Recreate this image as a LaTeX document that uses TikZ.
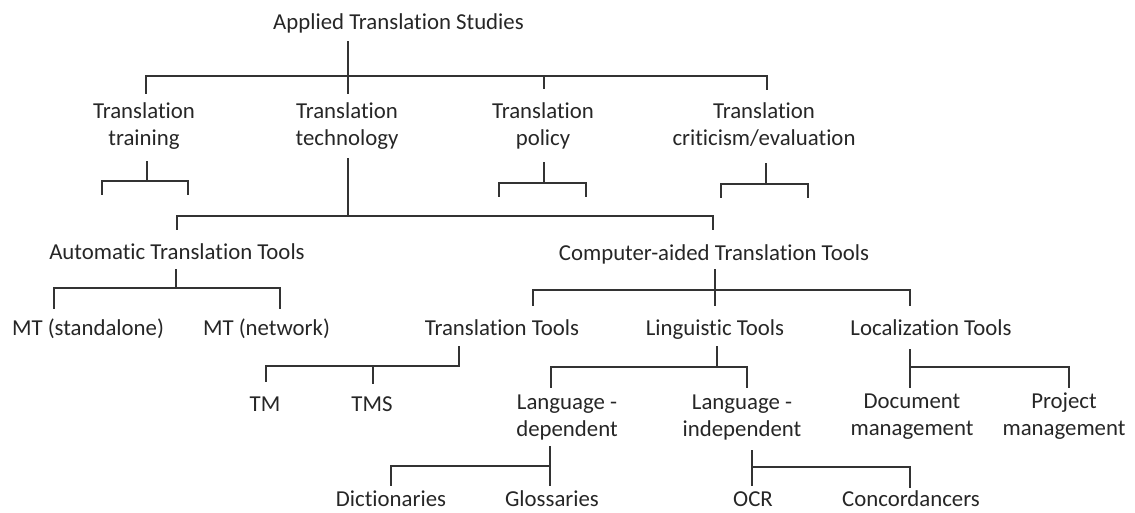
\documentclass[tikz,border=0pt]{standalone}
\usepackage{fontspec}
\setmainfont{Carlito}[Ligatures=NoCommon]
\begin{document}
\begin{tikzpicture}[x=1pt, y=-1pt,
  lbl/.style={inner sep=0pt, anchor=base, align=center,
    font=\fontsize{22.8}{27}\selectfont, text=black!85},
  link/.style={line width=1.7pt, draw=black!80, line cap=rect}]
\useasboundingbox (0,0) rectangle (1135,512);

% ---- labels (two-line labels are placed by the baseline of their last line) ----
\node[lbl] (root)  at (398.5,29)  {Applied Translation Studies};
\node[lbl] (train) at (144,145)   {Translation\\training};
\node[lbl] (tech)  at (347,145)   {Translation\\technology};
\node[lbl] (pol)   at (543,145)   {Translation\\policy};
\node[lbl] (crit)  at (764,145)   {Translation\\criticism/evaluation};
\node[lbl] (auto)  at (177,259)   {Automatic Translation Tools};
\node[lbl] (cat)   at (714,260)   {Computer-aided Translation Tools};
\node[lbl] (mts)   at (88,335)    {MT (standalone)};
\node[lbl] (mtn)   at (266.5,335) {MT (network)};
\node[lbl] (ttools) at (502,335)  {Translation Tools};
\node[lbl] (ling)  at (715,335)   {Linguistic Tools};
\node[lbl] (loc)   at (931,335)   {Localization Tools};
\node[lbl] (tm)    at (265,411)   {TM};
\node[lbl] (tms)   at (372,411)   {TMS};
\node[lbl] (ldep)  at (567,436)   {Language -\\dependent};
\node[lbl] (lind)  at (742,436)   {Language -\\independent};
\node[lbl] (doc)   at (912,435)   {Document\\management};
\node[lbl] (proj)  at (1064,435)  {Project\\management};
\node[lbl] (dict)  at (391,506)   {Dictionaries};
\node[lbl] (gloss) at (552,506)   {Glossaries};
\node[lbl] (ocr)   at (753,506)   {OCR};
\node[lbl] (conc)  at (911,506)   {Concordancers};

% ---- bracket points ----
% root -> four branches
\coordinate (r0) at (348,42);  \coordinate (r1) at (348,93);
\coordinate (rL) at (146,76);  \coordinate (rR) at (767,76);
\coordinate (rt) at (146,93);  \coordinate (rp0) at (544,76);
\coordinate (rp) at (544,88);  \coordinate (rc) at (767,89);
\draw[link] (r0) -- (r1);
\draw[link] (rt) -- (rL) -- (rR) -- (rc);
\draw[link] (rp0) -- (rp);

% training
\coordinate (t0) at (147,162); \coordinate (t1) at (147,181);
\coordinate (tL) at (102,181); \coordinate (tR) at (188,181);
\draw[link] (t0) -- (t1);
\draw[link] (102,194) -- (tL) -- (tR) -- (188,194);

% policy
\coordinate (p0) at (544,163); \coordinate (p1) at (544,183);
\coordinate (pL) at (499,183); \coordinate (pR) at (586,183);
\draw[link] (p0) -- (p1);
\draw[link] (499,196) -- (pL) -- (pR) -- (586,196);

% criticism/evaluation
\coordinate (c0) at (766,164); \coordinate (c1) at (766,184);
\coordinate (cL) at (721,184); \coordinate (cR) at (808,184);
\draw[link] (c0) -- (c1);
\draw[link] (721,197) -- (cL) -- (cR) -- (808,197);

% technology
\coordinate (g0) at (348,159); \coordinate (g1) at (348,216);
\coordinate (gL) at (177,216); \coordinate (gR) at (713,216);
\draw[link] (g0) -- (g1);
\draw[link] (177,229) -- (gL) -- (gR) -- (713,229);

% automatic tools
\coordinate (a0) at (176,270); \coordinate (a1) at (176,288);
\coordinate (aL) at (54,288);  \coordinate (aR) at (280,288);
\draw[link] (a0) -- (a1);
\draw[link] (54,308) -- (aL) -- (aR) -- (280,308);

% computer-aided tools
\coordinate (k0) at (715,270); \coordinate (k1) at (715,305);
\coordinate (kL) at (533,290); \coordinate (kR) at (910,290);
\draw[link] (k0) -- (k1);
\draw[link] (533,305) -- (kL) -- (kR) -- (910,305);

% translation tools
\coordinate (s0) at (459,347); \coordinate (s1) at (459,366);
\coordinate (sL) at (266,366); \coordinate (sM) at (373,366);
\draw[link] (s0) -- (s1) -- (sL) -- (266,381);
\draw[link] (sM) -- (373,383);

% linguistic tools
\coordinate (l0) at (717,347); \coordinate (l1) at (717,367);
\coordinate (lL) at (551,367); \coordinate (lR) at (747,367);
\draw[link] (l0) -- (l1);
\draw[link] (551,387) -- (lL) -- (lR) -- (747,387);

% localization tools
\coordinate (z0) at (910,350); \coordinate (z1) at (910,387);
\coordinate (zM) at (910,367); \coordinate (zR) at (1069,367);
\draw[link] (z0) -- (z1);
\draw[link] (zM) -- (zR) -- (1069,387);

% language-dependent
\coordinate (d0) at (550,447); \coordinate (d1) at (550,485);
\coordinate (dM) at (550,466); \coordinate (dL) at (391,466);
\draw[link] (d0) -- (d1);
\draw[link] (dM) -- (dL) -- (391,485);

% language-independent
\coordinate (i0) at (752,451); \coordinate (i1) at (752,485);
\coordinate (iM) at (752,467); \coordinate (iR) at (910,467);
\draw[link] (i0) -- (i1);
\draw[link] (iM) -- (iR) -- (910,487);
\end{tikzpicture}
\end{document}
